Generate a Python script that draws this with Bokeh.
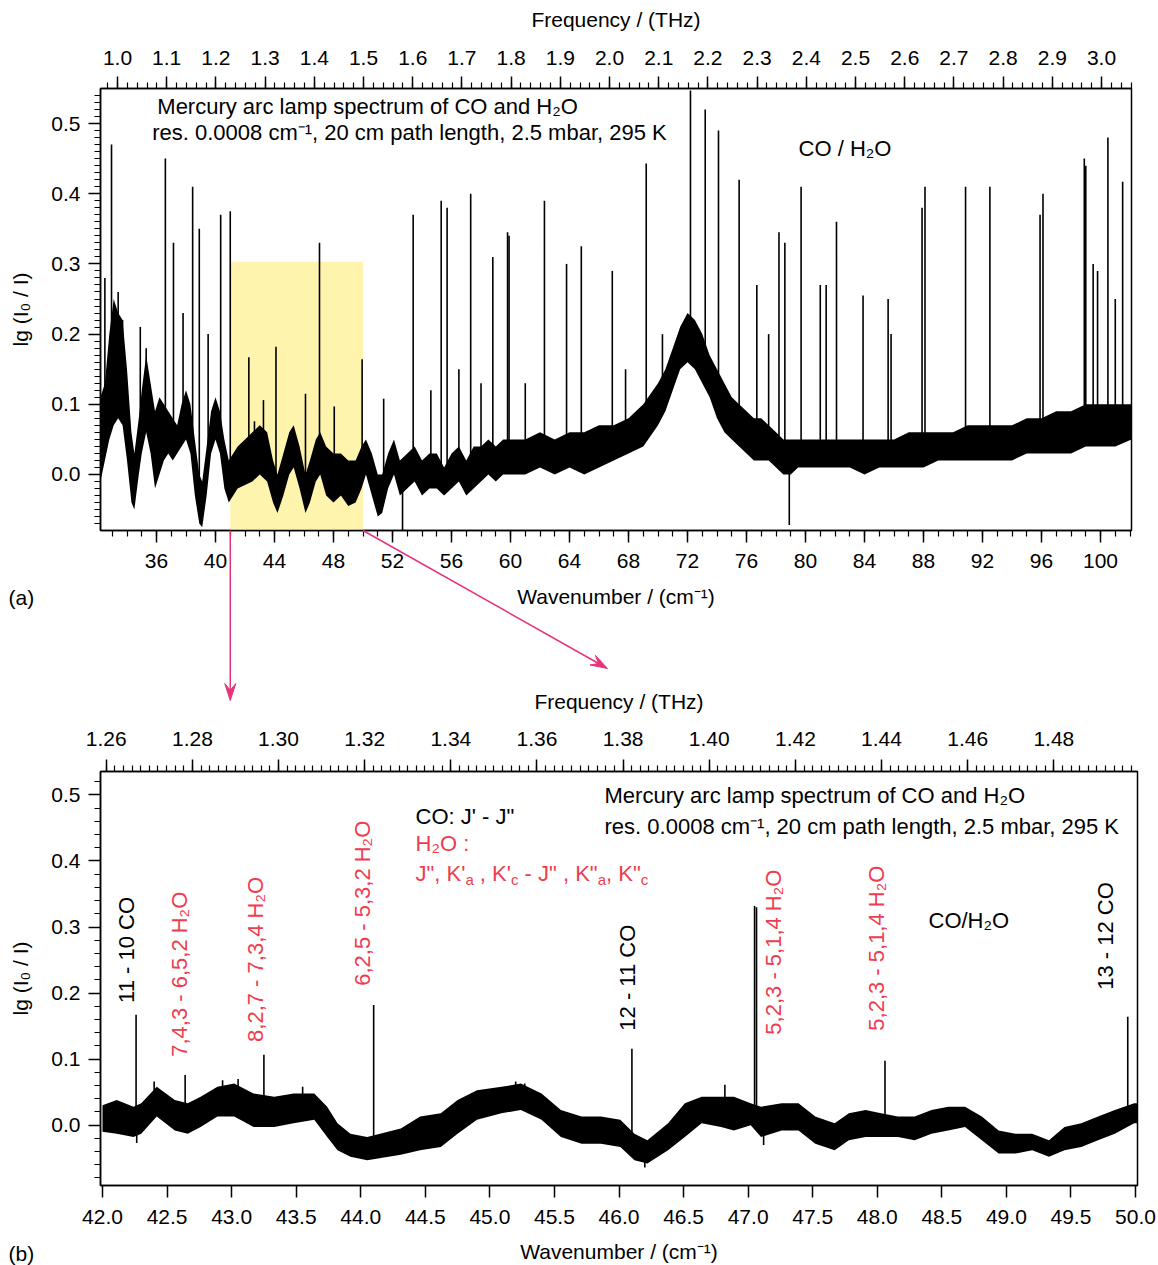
import numpy as np
from bokeh.plotting import figure
from bokeh.models import (Range1d, LinearAxis, FixedTicker, PrintfTickFormatter,
                          Label, BoxAnnotation, ColumnDataSource)
from bokeh.embed import file_html
from bokeh.resources import INLINE
from bokeh.core.properties import value

# ---------------- data ----------------
# panel (a): noise band of the spectrum, lower / upper envelope
A_WN = [32.2, 32.5, 32.8, 33.1, 33.4, 33.7, 34.0, 34.3, 34.5, 34.8, 35.0, 35.3, 35.6, 35.9,
        36.2, 36.5, 36.8, 37.1, 37.4, 37.7, 38.0, 38.3, 38.6, 38.9, 39.1, 39.4, 39.7, 40.0,
        40.3, 40.6, 40.9, 41.2, 41.5, 42.0, 42.5, 43.0, 43.5, 43.9, 44.2, 44.6, 45.0, 45.3,
        45.7, 46.1, 46.4, 46.8, 47.1, 47.5, 48.0, 48.5, 49.0, 49.5, 49.9, 50.2, 50.6, 51.0,
        51.3, 51.7, 52.1, 52.5, 53.0, 53.5, 54.0, 54.5, 55.0, 55.5, 56.0, 56.5, 57.0, 57.5,
        58.0, 58.5, 59.0, 59.5, 60.0, 61.0, 62.0, 63.0, 64.0, 65.0, 66.0, 67.0, 68.0, 69.0,
        70.0, 70.5, 71.0, 71.5, 72.0, 72.5, 73.0, 73.5, 74.0, 74.5, 75.0, 75.5, 76.0, 76.5,
        77.0, 77.5, 78.0, 78.5, 79.0, 79.5, 80.0, 81.0, 82.0, 83.0, 84.0, 85.0, 86.0, 87.0,
        88.0, 89.0, 90.0, 91.0, 92.0, 93.0, 94.0, 95.0, 96.0, 97.0, 98.0, 99.0, 100.0, 101.0,
        102.1]
A_LO = [-0.01, 0.02, 0.05, 0.07, 0.08, 0.07, 0.02, -0.04, -0.05, 0.0, 0.03, 0.06, 0.03, -0.02,
        0.0, 0.02, 0.03, 0.02, 0.03, 0.04, 0.05, 0.03, -0.03, -0.07, -0.075, -0.03, 0.03, 0.05,
        0.03, -0.02, -0.04, -0.03, -0.02, -0.015, -0.01, 0.0, -0.01, -0.04, -0.055, -0.03, 0.0, 0.01,
        -0.02, -0.055, -0.04, -0.01, 0.0, -0.03, -0.04, -0.03, -0.045, -0.04, -0.02, 0.0, -0.03, -0.06,
        -0.055, -0.02, 0.0, -0.03, -0.02, -0.01, -0.03, -0.02, -0.02, -0.03, -0.02, -0.01, -0.03, -0.02,
        -0.01, 0.0, -0.01, 0.0, 0.0, 0.0, 0.01, 0.0, 0.01, 0.0, 0.01, 0.02, 0.03, 0.04,
        0.07, 0.09, 0.12, 0.15, 0.16, 0.15, 0.13, 0.11, 0.08, 0.06, 0.05, 0.04, 0.03, 0.02,
        0.02, 0.02, 0.01, 0.0, 0.0, 0.01, 0.01, 0.01, 0.01, 0.01, 0.0, 0.01, 0.01, 0.01,
        0.01, 0.02, 0.02, 0.02, 0.02, 0.02, 0.02, 0.03, 0.03, 0.03, 0.03, 0.04, 0.04, 0.04,
        0.05]
A_HI = [0.11, 0.13, 0.20, 0.25, 0.23, 0.22, 0.15, 0.06, 0.03, 0.08, 0.12, 0.17, 0.13, 0.09,
        0.11, 0.10, 0.09, 0.08, 0.07, 0.10, 0.12, 0.10, 0.05, 0.0, -0.01, 0.04, 0.09, 0.11,
        0.09, 0.05, 0.02, 0.03, 0.04, 0.05, 0.06, 0.07, 0.06, 0.02, 0.0, 0.03, 0.06, 0.07,
        0.04, 0.0, 0.02, 0.05, 0.06, 0.04, 0.03, 0.03, 0.02, 0.02, 0.04, 0.05, 0.03, 0.0,
        0.0, 0.03, 0.05, 0.02, 0.03, 0.04, 0.02, 0.03, 0.03, 0.01, 0.03, 0.04, 0.02, 0.04,
        0.04, 0.05, 0.04, 0.05, 0.05, 0.05, 0.06, 0.05, 0.06, 0.06, 0.07, 0.07, 0.08, 0.10,
        0.13, 0.15, 0.18, 0.21, 0.23, 0.22, 0.20, 0.17, 0.15, 0.13, 0.11, 0.10, 0.09, 0.08,
        0.08, 0.07, 0.06, 0.05, 0.05, 0.05, 0.05, 0.05, 0.05, 0.05, 0.05, 0.05, 0.05, 0.06,
        0.06, 0.06, 0.06, 0.07, 0.07, 0.07, 0.07, 0.08, 0.08, 0.09, 0.09, 0.10, 0.10, 0.10,
        0.10]
# panel (a): absorption lines (position, tip value)
A_LINE_WN = [32.5, 32.95, 33.4, 33.7, 34.9, 35.3, 36.6, 37.15, 37.8, 38.45, 38.9, 39.5,
             40.35, 41.0, 42.26, 42.64, 43.25, 44.10, 46.10, 47.05, 48.05, 49.94, 51.4, 52.68,
             53.4, 54.6, 55.3, 55.7, 56.5, 57.3, 58.0, 58.8, 59.8, 59.9, 61.0, 62.3, 63.8, 64.8,
             66.9, 67.8, 69.2, 70.3, 72.2, 73.2, 74.1, 75.5, 76.7, 77.5, 78.2, 78.6, 78.9, 79.7,
             81.0, 81.4, 82.1, 83.9, 85.6, 85.8, 87.9, 88.1, 90.85, 92.5, 95.9, 96.1, 98.9, 99.0,
             99.5, 99.8, 100.5, 101.0, 101.5]
A_LINE_TOP = [0.28, 0.47, 0.26, 0.22, 0.21, 0.18, 0.45, 0.33, 0.23, 0.41, 0.35, 0.20,
              0.37, 0.375, 0.167, 0.076, 0.106, 0.182, 0.115, 0.33, 0.097, 0.164, 0.108, -0.08,
              0.37, 0.12, 0.39, 0.38, 0.15, 0.40, 0.13, 0.31, 0.345, 0.34, 0.13, 0.39, 0.30, 0.325,
              0.29, 0.15, 0.443, 0.20, 0.547, 0.52, 0.49, 0.42, 0.27, 0.20, 0.345, 0.33, -0.072, 0.41,
              0.27, 0.27, 0.36, 0.255, 0.25, 0.20, 0.38, 0.41, 0.41, 0.41, 0.37, 0.40, 0.45, 0.44,
              0.30, 0.29, 0.48, 0.25, 0.417]
# yellow zoom window of panel (a)
ZOOM_WN = [41.0, 50.0]
ZOOM_TOP = 0.303

# panel (b): noise band
B_WN = [42.0, 42.11, 42.24, 42.30, 42.42, 42.56, 42.66, 42.76, 42.89, 43.02, 43.17, 43.33,
        43.48, 43.64, 43.74, 43.82, 43.92, 44.05, 44.31, 44.46, 44.62, 44.75, 44.90, 45.09,
        45.24, 45.40, 45.55, 45.71, 45.86, 46.01, 46.12, 46.22, 46.38, 46.51, 46.64, 46.79,
        46.89, 47.02, 47.10, 47.26, 47.39, 47.52, 47.67, 47.78, 47.91, 48.03, 48.16, 48.29,
        48.42, 48.55, 48.68, 48.81, 48.94, 49.07, 49.20, 49.33, 49.45, 49.58, 49.71, 49.84,
        49.99, 50.02]
B_LO = [-0.010, -0.013, -0.018, -0.013, 0.013, -0.008, -0.013, -0.003, 0.013, 0.013, -0.003, -0.003,
        0.003, 0.008, -0.018, -0.038, -0.048, -0.053, -0.045, -0.038, -0.033, -0.013, 0.008, 0.018,
        0.023, 0.008, -0.018, -0.028, -0.028, -0.033, -0.053, -0.058, -0.038, -0.018, 0.003, -0.003,
        -0.008, 0.0, -0.018, -0.008, -0.008, -0.028, -0.038, -0.023, -0.018, -0.018, -0.018, -0.023,
        -0.013, -0.008, -0.003, -0.023, -0.043, -0.043, -0.038, -0.048, -0.038, -0.033, -0.023, -0.013,
        0.003, 0.003]
B_HI = [0.030, 0.038, 0.028, 0.033, 0.058, 0.038, 0.033, 0.043, 0.058, 0.063, 0.048, 0.043,
        0.048, 0.048, 0.028, 0.003, -0.013, -0.018, -0.005, 0.013, 0.018, 0.038, 0.053, 0.058,
        0.063, 0.048, 0.023, 0.013, 0.013, 0.008, -0.013, -0.023, 0.003, 0.033, 0.043, 0.043,
        0.043, 0.033, 0.028, 0.033, 0.033, 0.013, 0.003, 0.018, 0.023, 0.018, 0.013, 0.013,
        0.023, 0.028, 0.028, 0.013, -0.008, -0.013, -0.013, -0.023, -0.003, 0.003, 0.013, 0.023,
        0.033, 0.033]
B_LINE_WN = [42.26, 42.64, 43.25, 44.10, 46.10, 47.05, 47.065, 48.06, 49.94,
             42.40, 42.93, 43.05, 43.55, 45.20, 45.27, 46.82, 42.265, 46.20, 47.12]
B_LINE_TOP = [0.167, 0.076, 0.1065, 0.182, 0.1156, 0.332, 0.33, 0.0974, 0.164,
              0.066, 0.068, 0.070, 0.058, 0.066, 0.063, 0.061, -0.027, -0.064, -0.03]
B_LABELS = ["11 - 10 CO", "7,4,3 - 6,5,2 H₂O", "8,2,7 - 7,3,4 H₂O", "6,2,5 - 5,3,2 H₂O",
            "12 - 11 CO", "5,2,3 - 5,1,4 H₂O", "5,2,3 - 5,1,4 H₂O", "13 - 12 CO"]
B_LABEL_X = [42.186, 42.597, 43.186, 44.016, 46.062, 47.194, 47.994, 49.768]
B_LABEL_Y = [0.185, 0.1035, 0.126, 0.211, 0.143, 0.137, 0.143, 0.205]
B_LABEL_KIND = ["CO", "H2O", "H2O", "H2O", "CO", "H2O", "H2O", "CO"]

# axis ticks
A_WN_TICKS = list(range(36, 101, 4))
A_WN_MINOR = list(range(33, 103))
A_THZ_TICKS = [round(1.0 + 0.1 * i, 1) for i in range(21)]
A_THZ_MINOR = [round(0.98 + 0.02 * i, 2) for i in range(105)]
A_Y_TICKS = [0.0, 0.1, 0.2, 0.3, 0.4, 0.5]
A_Y_MINOR = [round(-0.07 + 0.01 * i, 2) for i in range(62)]
B_WN_TICKS = [round(42.0 + 0.5 * i, 1) for i in range(17)]
B_THZ_TICKS = [round(1.26 + 0.02 * i, 2) for i in range(12)]
B_THZ_MINOR = [round(1.26 + 0.002 * i, 3) for i in range(120)]
B_Y_TICKS = [0.0, 0.1, 0.2, 0.3, 0.4, 0.5]
B_Y_MINOR = [round(-0.08 + 0.02 * i, 2) for i in range(31)]

# ---------------- style ----------------
C_THZ = 0.0299792458
FONT = "Liberation Sans"
RED = "#EE3D4F"
PINK = "#E6337A"
YELLOW = "#FFF4AE"
W, H = 1158, 1265
HA = 680
HB = H - HA
A_FR = (100, 1131, 88, 530)        # frame left, right, top, bottom (page px)
B_FR = (100, 1137, 771, 1186)
AX = (32.203, 102.10)
AY = (-0.0798, 0.5499)
BX = (41.9845, 50.0155)
BY = (-0.0914, 0.5355)


def x2px(x, fr, xr):
    return fr[0] + (x - xr[0]) / (xr[1] - xr[0]) * (fr[1] - fr[0])


def style_axis(ax, label, major_standoff, label_standoff):
    ax.axis_label = label
    ax.axis_label_text_font = FONT
    ax.axis_label_text_font_size = "21px"
    ax.axis_label_text_font_style = "normal"
    ax.axis_label_text_color = "black"
    ax.axis_label_standoff = label_standoff
    ax.major_label_text_font = FONT
    ax.major_label_text_font_size = "21px"
    ax.major_label_text_color = "black"
    ax.major_label_standoff = major_standoff
    ax.axis_line_color = "black"
    ax.axis_line_width = 1.5
    ax.major_tick_line_color = "black"
    ax.major_tick_line_width = 1.5
    ax.minor_tick_line_color = "black"
    ax.minor_tick_line_width = 1.2
    ax.major_tick_in = 0
    ax.major_tick_out = 12
    ax.minor_tick_in = 0
    ax.minor_tick_out = 6


def make_fig(h, top_off, fr, xr, yr):
    p = figure(width=W, height=h, x_range=Range1d(*xr), y_range=Range1d(*yr),
               output_backend="svg", toolbar_location=None,
               min_border_left=fr[0], min_border_right=W - fr[1],
               min_border_top=fr[2] - top_off,
               min_border_bottom=top_off + h - fr[3])
    p.xgrid.visible = False
    p.ygrid.visible = False
    p.outline_line_color = "black"
    p.outline_line_width = 1.5
    p.background_fill_color = "white"
    p.border_fill_color = "white"
    return p


def add_label(p, x, y, text, color="black", align="left", size="22px", x_off=0, y_off=0):
    p.add_layout(Label(x=x, y=y, text=text, text_color=color, text_align=align,
                       text_baseline="middle", text_font=FONT, text_font_size=size,
                       x_offset=x_off, y_offset=y_off))


# ---------------- panel (a) ----------------
pa = make_fig(HA, 0, A_FR, AX, AY)
pa.extra_x_ranges = {"thz": Range1d(AX[0] * C_THZ, AX[1] * C_THZ)}

pa.add_layout(BoxAnnotation(left=ZOOM_WN[0], right=ZOOM_WN[1], bottom=AY[0], top=ZOOM_TOP,
                            fill_color=YELLOW, fill_alpha=1.0, line_alpha=0.0, level="underlay"))

a_mid = (np.array(A_LO) + np.array(A_HI)) / 2
pa.varea(x=A_WN, y1=A_LO, y2=A_HI, fill_color="black")
a_base = np.interp(A_LINE_WN, A_WN, a_mid)
pa.segment(x0=A_LINE_WN, y0=a_base, x1=A_LINE_WN, y1=A_LINE_TOP, line_color="black", line_width=1.6)

xa = pa.xaxis[0]
xa.ticker = FixedTicker(ticks=A_WN_TICKS, minor_ticks=A_WN_MINOR)
xa.formatter = PrintfTickFormatter(format="%d")
style_axis(xa, "Wavenumber / (cm⁻¹)", 11, 14)
ya = pa.yaxis[0]
ya.ticker = FixedTicker(ticks=A_Y_TICKS, minor_ticks=A_Y_MINOR)
ya.formatter = PrintfTickFormatter(format="%.1f")
style_axis(ya, "lg (I₀ / I)", 8, 16)
ta = LinearAxis(x_range_name="thz")
ta.ticker = FixedTicker(ticks=A_THZ_TICKS, minor_ticks=A_THZ_MINOR)
ta.formatter = PrintfTickFormatter(format="%.1f")
style_axis(ta, "Frequency / (THz)", 12, 17)
pa.add_layout(ta, "above")

add_label(pa, 50.31, 0.524, "Mercury arc lamp spectrum of CO and H₂O", align="center")
add_label(pa, 53.15, 0.487, "res. 0.0008 cm⁻¹, 20 cm path length, 2.5 mbar, 295 K", align="center")
add_label(pa, 79.53, 0.464, "CO / H₂O")

# ---------------- panel (b) ----------------
pb = make_fig(HB, HA, B_FR, BX, BY)
pb.extra_x_ranges = {"thz": Range1d(BX[0] * C_THZ, BX[1] * C_THZ)}

b_mid = (np.array(B_LO) + np.array(B_HI)) / 2
pb.varea(x=B_WN, y1=B_LO, y2=B_HI, fill_color="black")
b_base = np.interp(B_LINE_WN, B_WN, b_mid)
pb.segment(x0=B_LINE_WN, y0=b_base, x1=B_LINE_WN, y1=B_LINE_TOP, line_color="black", line_width=1.6)

src = ColumnDataSource(dict(x=B_LABEL_X, y=B_LABEL_Y, text=B_LABELS,
                            color=["black" if k == "CO" else RED for k in B_LABEL_KIND]))
pb.text(x="x", y="y", text="text", text_color="color", angle=np.pi / 2, text_align="left",
        text_baseline="middle", text_font=value(FONT), text_font_size="22px", source=src)

xb = pb.xaxis[0]
xb.ticker = FixedTicker(ticks=B_WN_TICKS, minor_ticks=[])
xb.formatter = PrintfTickFormatter(format="%.1f")
style_axis(xb, "Wavenumber / (cm⁻¹)", 12, 13)
yb = pb.yaxis[0]
yb.ticker = FixedTicker(ticks=B_Y_TICKS, minor_ticks=B_Y_MINOR)
yb.formatter = PrintfTickFormatter(format="%.1f")
style_axis(yb, "lg (I₀ / I)", 8, 16)
tb = LinearAxis(x_range_name="thz")
tb.ticker = FixedTicker(ticks=B_THZ_TICKS, minor_ticks=B_THZ_MINOR)
tb.formatter = PrintfTickFormatter(format="%.2f")
style_axis(tb, "Frequency / (THz)", 14, 16)
pb.add_layout(tb, "above")

add_label(pb, 45.888, 0.499, "Mercury arc lamp spectrum of CO and H₂O")
add_label(pb, 45.888, 0.452, "res. 0.0008 cm⁻¹, 20 cm path length, 2.5 mbar, 295 K")
add_label(pb, 44.424, 0.4675, "CO: J' - J\"")
add_label(pb, 44.424, 0.4267, "H₂O :", color=RED)
add_label(pb, 48.397, 0.3104, "CO/H₂O")

# "J", K'a , K'c - J" , K"a, K"c" with subscripts (Arial/Liberation advance widths)
ARIAL = {'J': 500, '"': 355, ',': 278, ' ': 278, 'K': 667, "'": 191, 'a': 556, 'c': 500, '-': 333}
segs = [("J\", K'", False), ("a", True), (" , K'", False), ("c", True),
        (" - J\" , K\"", False), ("a", True), (", K\"", False), ("c", True)]
off = 0.0
for s, sub in segs:
    fs = 15 if sub else 22
    add_label(pb, 44.424, 0.3814, s.replace(" ", "\u00a0"), color=RED, size=f"{fs}px",
              x_off=off, y_off=(-6 if sub else 0))
    off += sum(ARIAL[ch] for ch in s) * fs / 1000.0

# ---------------- transparent page overlay: pink arrows and panel tags ----------------
ov = figure(width=W, height=H, x_range=Range1d(0, W), y_range=Range1d(H, 0),
            output_backend="svg", toolbar_location=None,
            x_axis_location=None, y_axis_location=None, min_border=0,
            styles={"position": "absolute", "top": "0px", "left": "0px"})
ov.xgrid.visible = False
ov.ygrid.visible = False
ov.outline_line_color = None
ov.background_fill_alpha = 0.0
ov.border_fill_alpha = 0.0

# arrows start at the bottom corners of the yellow window of panel (a)
starts = [(x2px(ZOOM_WN[0], A_FR, AX), A_FR[3]), (x2px(ZOOM_WN[1], A_FR, AX), A_FR[3])]
tips = [(x2px(ZOOM_WN[0], A_FR, AX), 700), (607, 668)]
L, HW = 17.0, 5.5
sx0, sy0, sx1, sy1, hx, hy = [], [], [], [], [], []
for (x0, y0), (x1, y1) in zip(starts, tips):
    d = np.hypot(x1 - x0, y1 - y0)
    ux, uy = (x1 - x0) / d, (y1 - y0) / d
    nx, ny = -uy, ux
    bx, by = x1 - ux * L * 0.6, y1 - uy * L * 0.6
    sx0.append(x0); sy0.append(y0); sx1.append(bx); sy1.append(by)
    hx.append([x1, x1 - ux * L + nx * HW, bx, x1 - ux * L - nx * HW])
    hy.append([y1, y1 - uy * L + ny * HW, by, y1 - uy * L - ny * HW])
ov.segment(x0=sx0, y0=sy0, x1=sx1, y1=sy1, line_color=PINK, line_width=1.5)
ov.patches(xs=hx, ys=hy, fill_color=PINK, line_color=PINK, line_width=1.0)
ov.text(x=[8, 8], y=[597, 1253], text=["(a)", "(b)"], text_align="left", text_baseline="middle",
        text_font=value(FONT), text_font_size="21px", text_color="black")

open("out.html", "w").write(file_html([pa, pb, ov], INLINE))
